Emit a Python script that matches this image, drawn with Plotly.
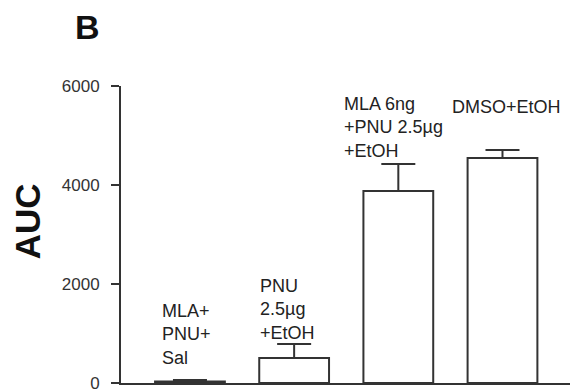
import plotly.graph_objects as go

# Data
categories = ["MLA+<br>PNU+<br>Sal", "PNU<br>2.5µg<br>+EtOH", "MLA 6ng<br>+PNU 2.5µg<br>+EtOH", "DMSO+EtOH"]
auc_mean = [30, 505, 3880, 4545]
auc_sem = [30, 285, 545, 160]
y_ticks = [0, 2000, 4000, 6000]
panel_label = "B"
y_title = "AUC"

FONT = "Liberation Sans, Arial, Helvetica, sans-serif"
LINE = "#333333"

x_idx = list(range(len(categories)))

fig = go.Figure()
fig.add_trace(go.Bar(
    x=x_idx,
    y=auc_mean,
    width=0.67,
    marker=dict(color="white", line=dict(color=LINE, width=2)),
    error_y=dict(type="data", symmetric=False, array=auc_sem,
                 arrayminus=[0] * len(auc_sem),
                 color=LINE, thickness=2, width=17),
    showlegend=False,
))

# category labels above bars
xshifts = [-30, -36, -56, -52]
yshifts = [10, -1, 1, 31]
for i, lab in enumerate(categories):
    fig.add_annotation(
        x=x_idx[i], y=auc_mean[i] + auc_sem[i], xref="x", yref="y",
        text=lab, showarrow=False, align="left",
        xanchor="left", yanchor="bottom",
        xshift=xshifts[i], yshift=yshifts[i],
        font=dict(family=FONT, size=18, color="#222222"),
    )

fig.add_annotation(
    x=-0.0757, y=1.199, xref="paper", yref="paper", text="<b>%s</b>" % panel_label,
    showarrow=False, xanchor="center", yanchor="middle",
    font=dict(family=FONT, size=34, color="#111111"),
)
fig.add_annotation(
    x=-0.209, y=0.545, xref="paper", yref="paper", text="<b>%s</b>" % y_title,
    showarrow=False, xanchor="center", yanchor="middle", textangle=-90,
    font=dict(family=FONT, size=35, color="#111111"),
)

# page body has an 8px default margin, so the figure is offset by 8px
fig.update_layout(
    width=571, height=383,
    margin=dict(l=113, r=9, t=78, b=8, autoexpand=False),
    paper_bgcolor="white", plot_bgcolor="white",
    font=dict(family=FONT, size=16, color="#333333"),
    bargap=0.33,
)
fig.update_xaxes(
    range=[-0.662, 3.648], showline=True, linecolor=LINE, linewidth=2,
    showticklabels=False, ticks="", showgrid=False, zeroline=False,
    automargin=False,
)
fig.update_yaxes(
    range=[0, 6000], tickvals=y_ticks, ticktext=[str(v) for v in y_ticks],
    showline=True, linecolor=LINE, linewidth=2,
    ticks="outside", ticklen=8, tickwidth=2, tickcolor=LINE,
    ticklabelstandoff=8, ticklabeloverflow="allow", automargin=False,
    showgrid=False, zeroline=False,
    tickfont=dict(family=FONT, size=17, color="#333333"),
)

fig.write_html("out.html")
